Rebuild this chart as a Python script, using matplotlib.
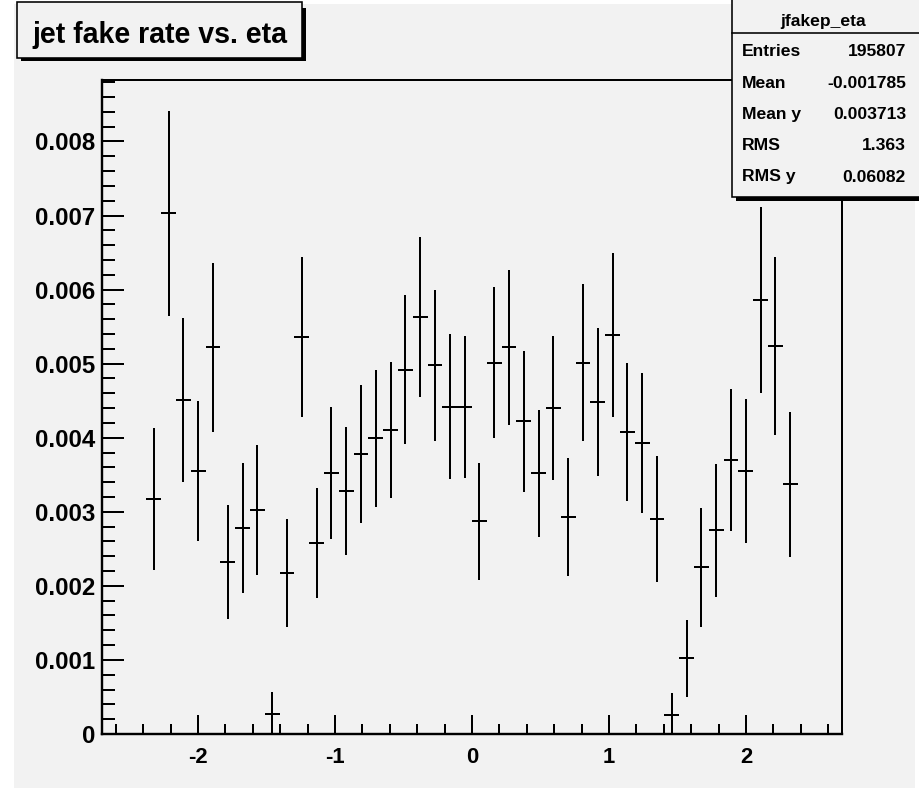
import matplotlib
matplotlib.use("Agg")
import matplotlib.pyplot as plt
from matplotlib import font_manager
from matplotlib.patches import Rectangle
from matplotlib.lines import Line2D
from matplotlib.ticker import MultipleLocator, FixedLocator

# ---------------- data ----------------
eta_centers = [-2.322, -2.214, -2.106, -1.998, -1.890, -1.782, -1.674, -1.566,
               -1.458, -1.350, -1.242, -1.134, -1.026, -0.918, -0.810, -0.702,
               -0.594, -0.486, -0.378, -0.270, -0.162, -0.054, 0.054, 0.162,
               0.270, 0.378, 0.486, 0.594, 0.702, 0.810, 0.918, 1.026,
               1.134, 1.242, 1.350, 1.458, 1.566, 1.674, 1.782, 1.890,
               1.998, 2.106, 2.214, 2.322]
fake_rate = [3.17, 7.03, 4.51, 3.55, 5.22, 2.32, 2.78, 3.02,
             0.27, 2.17, 5.36, 2.58, 3.52, 3.28, 3.78, 3.99,
             4.10, 4.92, 5.63, 4.98, 4.42, 4.42, 2.87, 5.01,
             5.22, 4.22, 3.52, 4.40, 2.93, 5.01, 4.48, 5.39,
             4.08, 3.93, 2.90, 0.26, 1.02, 2.25, 2.75, 3.70,
             3.55, 5.86, 5.24, 3.37]          # x 1e-3
fake_err = [0.96, 1.38, 1.11, 0.95, 1.14, 0.77, 0.875, 0.88,
            0.30, 0.73, 1.08, 0.74, 0.89, 0.86, 0.935, 0.93,
            0.92, 1.01, 1.08, 1.02, 0.98, 0.96, 0.79, 1.02,
            1.05, 0.95, 0.86, 0.97, 0.80, 1.06, 1.00, 1.11,
            0.93, 0.94, 0.85, 0.30, 0.52, 0.80, 0.895, 0.96,
            0.97, 1.26, 1.20, 0.98]           # x 1e-3
half_bin = 0.054

x_major = [-2, -1, 0, 1, 2]
y_major = [0, 0.001, 0.002, 0.003, 0.004, 0.005, 0.006, 0.007, 0.008]
y_labels = ["0", "0.001", "0.002", "0.003", "0.004", "0.005", "0.006", "0.007", "0.008"]

title_text = "jet fake rate vs. eta"
stats_name = "jfakep_eta"
stats_keys = ["Entries", "Mean", "Mean y", "RMS", "RMS y"]
stats_vals = ["195807", "-0.001785", "0.003713", "1.363", "0.06082"]

# ---------------- fonts ----------------
names = {f.name for f in font_manager.fontManager.ttflist}
HAS_NARROW = "Liberation Sans Narrow" in names
base = "Liberation Sans Narrow" if HAS_NARROW else "Liberation Sans"
plt.rcParams['font.family'] = [base, 'DejaVu Sans']

W, H = 920, 788
DPI = 100
def px(v):  # pixel -> points
    return v * 72.0 / DPI

fig = plt.figure(figsize=(W / DPI, H / DPI), dpi=DPI, facecolor="white")
BG = "#f2f2f2"
fig.patches.append(Rectangle((14 / W, 0), (915 - 14) / W, 1 - 4 / H,
                             transform=fig.transFigure, facecolor=BG,
                             edgecolor="none", zorder=-5))

ax = fig.add_axes([102 / W, 1 - 734 / H, (842 - 102) / W, (734 - 80) / H])
ax.set_zorder(1)
ax.set_facecolor(BG)
ax.set_xlim(-2.7, 2.7)
ax.set_ylim(0, 0.00883)

yv = [v * 1e-3 for v in fake_rate]
ye = [v * 1e-3 for v in fake_err]
ax.errorbar(eta_centers, yv, yerr=ye, xerr=half_bin, fmt="none",
            ecolor="black", elinewidth=px(2.0), capsize=0, zorder=3)

for s in ["top", "right"]:
    ax.spines[s].set_linewidth(px(2.0))
for s in ["left", "bottom"]:
    ax.spines[s].set_linewidth(px(2.4))

ax.xaxis.set_major_locator(FixedLocator(x_major))
ax.xaxis.set_minor_locator(MultipleLocator(0.2))
ax.yaxis.set_major_locator(FixedLocator(y_major))
ax.yaxis.set_minor_locator(MultipleLocator(0.0002))
ax.set_xticklabels([str(v) for v in x_major])
ax.set_yticklabels(y_labels)

ax.tick_params(axis="x", which="major", direction="in", length=px(19), width=px(2),
               top=False, pad=px(13), labelsize=px(23) if HAS_NARROW else px(22))
ax.tick_params(axis="x", which="minor", direction="in", length=px(10), width=px(2), top=False)
ax.tick_params(axis="y", which="major", direction="in", length=px(22), width=px(2),
               right=False, pad=px(7), labelsize=px(28) if HAS_NARROW else px(24))
ax.tick_params(axis="y", which="minor", direction="in", length=px(12.5), width=px(2), right=False)
for lab in ax.get_xticklabels() + ax.get_yticklabels():
    lab.set_fontweight("bold")

# ---------------- title box ----------------
def fig_rect(x0, y0, x1, y1, **kw):
    return Rectangle((x0 / W, 1 - y1 / H), (x1 - x0) / W, (y1 - y0) / H,
                     transform=fig.transFigure, **kw)

fig.patches.append(fig_rect(21, 8, 306, 61, facecolor="black", edgecolor="none", zorder=4))
fig.patches.append(fig_rect(17, 2, 302, 57.5, facecolor=BG, edgecolor="black",
                            linewidth=px(1.6), zorder=5))
fig.text(32 / W, 1 - 43 / H, title_text, fontsize=px(36) if HAS_NARROW else px(28.5),
         fontweight="bold", ha="left", va="baseline", zorder=6)

# ---------------- stats box ----------------
fig.patches.append(fig_rect(736, 2, 930, 200.5, facecolor="black", edgecolor="none", zorder=4))
fig.patches.append(fig_rect(732, -5, 926, 197, facecolor=BG, edgecolor="black",
                            linewidth=px(1.6), zorder=5))
fig.add_artist(Line2D([732 / W, 920 / W], [1 - 33 / H, 1 - 33 / H],
                      transform=fig.transFigure, color="black", linewidth=px(1.6), zorder=6))
sfs = px(19) if HAS_NARROW else px(17.5)
fig.text(823 / W, 1 - 26 / H, stats_name, fontsize=sfs, fontweight="bold",
         ha="center", va="baseline", zorder=7)
row_y = [52, 83.25, 114.5, 145.75, 177]
for k, v, yy in zip(stats_keys, stats_vals, row_y):
    fig.text(742 / W, 1 - yy / H, k, fontsize=sfs, fontweight="bold",
             ha="left", va="center", zorder=7)
    fig.text(906 / W, 1 - yy / H, v, fontsize=sfs, fontweight="bold",
             ha="right", va="center", zorder=7)

fig.savefig("out.png", dpi=DPI, facecolor=fig.get_facecolor())
